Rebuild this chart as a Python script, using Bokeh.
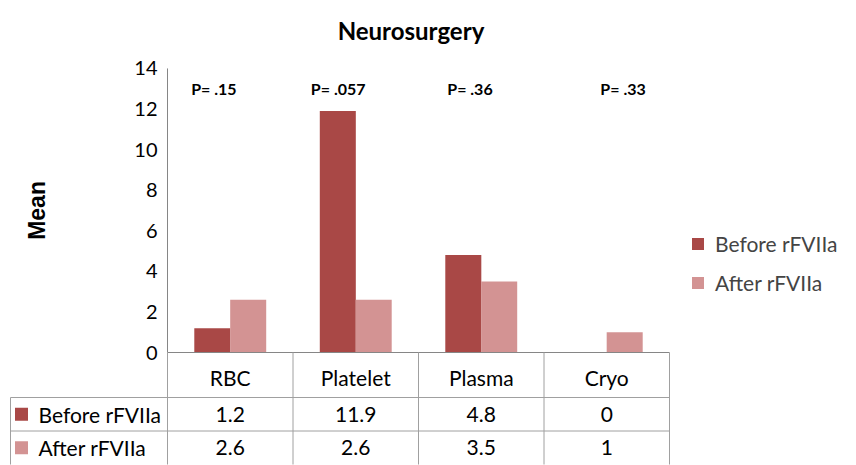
import math
from bokeh.plotting import figure
from bokeh.models import Range1d, Legend, LegendItem, ColumnDataSource
from bokeh.embed import file_html
from bokeh.resources import INLINE
from bokeh.core.properties import value
from bokeh.transform import dodge

# ---------------- data ----------------
categories = ["RBC", "Platelet", "Plasma", "Cryo"]
before = [1.2, 11.9, 4.8, 0]
after = [2.6, 2.6, 3.5, 1]
series = ["Before rFVIIa", "After rFVIIa"]
p_labels = ["P= .15", "P= .057", "P= .36", "P= .33"]
y_ticks = [0, 2, 4, 6, 8, 10, 12, 14]

# ---------------- style / geometry ----------------
FONT = "Lato"
C_BEFORE = "#A94846"
C_AFTER = "#D39393"
GRID = "#A0A0A0"
AXIS = "#868686"

W, H = 856, 465
PX_CAT = 125.5      # px per category
PX_UNIT = 20.29     # px per value unit
ORIG_X = 167        # frame px of x=0
ORIG_Y = 352        # frame px (from top) of y=0

x_start = -ORIG_X / PX_CAT
x_end = (W - ORIG_X) / PX_CAT
y_end = ORIG_Y / PX_UNIT
y_start = -(H - ORIG_Y) / PX_UNIT

n = len(categories)
centers = [i + 0.5 for i in range(n)]
p_offset = [-0.13, -0.14, -0.09, 0.13]

# table geometry (value units below zero)
HEADER_H = 45 / PX_UNIT
ROW_H = 33.5 / PX_UNIT
row_top = -HEADER_H
row_mid = row_top - ROW_H
row_bot = row_mid - ROW_H
row_c = [row_top - ROW_H / 2, row_mid - ROW_H / 2]
x_tab_left = -157 / PX_CAT

p = figure(width=W, height=H, output_backend="svg", toolbar_location=None,
           x_range=Range1d(x_start, x_end), y_range=Range1d(y_start, y_end),
           min_border=0, x_axis_type=None, y_axis_type=None)
p.outline_line_color = None
p.background_fill_color = "white"
p.border_fill_color = "white"

# y axis (line + tick labels) and y label
p.segment(x0=[0], y0=[0], x1=[0], y1=[max(y_ticks)], line_color=AXIS, line_width=1)
p.text(x=[-10 / PX_CAT] * len(y_ticks), y=y_ticks, text=[str(t) for t in y_ticks],
       text_font=value(FONT), text_font_size="20px", text_align="right",
       text_baseline="middle", text_color="black")
p.text(x=[(36 - ORIG_X) / PX_CAT], y=[max(y_ticks) / 2], text=["Mean"], angle=math.pi / 2,
       text_font=value("Liberation Sans"), text_font_style="bold", text_font_size="23px",
       text_align="center", text_baseline="middle", text_color="black")

# bars
src = ColumnDataSource(dict(x=centers, before=before, after=after,
                            px=[c + o for c, o in zip(centers, p_offset)],
                            py=[13] * n, plab=p_labels))
r1 = p.vbar(x=dodge("x", -0.143, range=p.x_range), top="before", width=0.287, source=src,
            fill_color=C_BEFORE, line_color=None)
r2 = p.vbar(x=dodge("x", 0.143, range=p.x_range), top="after", width=0.287, source=src,
            fill_color=C_AFTER, line_color=None)

# p-values
p.text(x="px", y="py", text="plab", source=src, text_font=value(FONT),
       text_font_style="bold", text_font_size="16px", text_align="center",
       text_baseline="middle", text_color="black")

# title
p.text(x=[1.94], y=[15.87], text=["Neurosurgery"], text_font=value(FONT),
       text_font_style="bold", text_font_size="24px", text_align="center",
       text_baseline="middle", text_color="black")

# x axis line + data table grid
p.segment(x0=[0], y0=[0], x1=[n], y1=[0], line_color=AXIS, line_width=1)
p.segment(x0=[x_tab_left, x_tab_left], y0=[row_top, row_mid], x1=[n, n], y1=[row_top, row_mid],
          line_color=GRID, line_width=1)
vx = list(range(n + 1))
p.segment(x0=vx, y0=[0] * len(vx), x1=vx, y1=[row_bot] * len(vx), line_color=GRID, line_width=1)
p.segment(x0=[x_tab_left], y0=[row_top], x1=[x_tab_left], y1=[row_bot], line_color=GRID, line_width=1)

# category labels (header row)
p.text(x=centers, y=[-HEADER_H / 2 - 0.1] * n, text=categories, text_font=value(FONT),
       text_font_size="21px", text_align="center", text_baseline="middle", text_color="black")

# table row labels with swatches
p.scatter(x=[(21 - ORIG_X) / PX_CAT] * 2, y=row_c, marker="square", size=13,
          fill_color=[C_BEFORE, C_AFTER], line_color=None)
p.text(x=[(38 - ORIG_X) / PX_CAT] * 2, y=row_c, text=series, text_font=value(FONT),
       text_font_size="21px", text_align="left", text_baseline="middle", text_color="black")

# table values
vals = [str(v) for v in before] + [str(v) for v in after]
p.text(x=centers + centers, y=[row_c[0]] * n + [row_c[1]] * n, text=vals, text_font=value(FONT),
       text_font_size="21px", text_align="center", text_baseline="middle", text_color="black")

# legend
legend = Legend(items=[LegendItem(label=series[0], renderers=[r1]),
                       LegendItem(label=series[1], renderers=[r2])],
                location=(690, 170), padding=0, margin=0, spacing=14,
                glyph_width=15, glyph_height=15, label_standoff=10, label_height=25,
                label_text_font=FONT, label_text_font_size="21px",
                border_line_color=None, background_fill_alpha=0)
p.add_layout(legend)

open("out.html", "w").write(file_html(p, INLINE))
